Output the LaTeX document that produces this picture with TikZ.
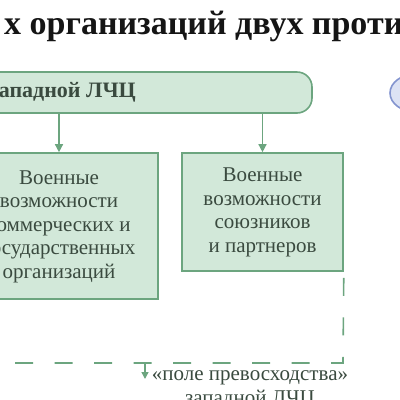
\documentclass[tikz,border=0pt]{standalone}
\usepackage{fontspec}
\setmainfont{Liberation Serif}
\usetikzlibrary{arrows.meta,shapes.geometric}
\definecolor{boxfill}{HTML}{D2E8D9}
\definecolor{boxdraw}{HTML}{6CA57F}
\definecolor{boxtext}{HTML}{3A4A3F}
\definecolor{bluefill}{HTML}{DCE2F4}
\definecolor{bluedraw}{HTML}{8394CF}
\definecolor{titletext}{HTML}{151515}
\tikzset{
  greenbox/.style={draw=boxdraw, fill=boxfill, line width=1.6pt, inner sep=0pt},
  boxlabel/.style={text=boxtext, align=center, font=\fontsize{21}{23.5}\selectfont, inner sep=0pt},
  arr/.style={draw=boxdraw, line width=1.4pt, -{Triangle[width=8pt,length=8pt]}},
  dashline/.style={draw=boxdraw, line width=1.6pt, dash pattern=on 18pt off 21.5pt, dash phase=33.5pt},
}
\begin{document}
\begin{tikzpicture}[x=1pt,y=-1pt]
\useasboundingbox (0,0) rectangle (400,400);
\clip (0,0) rectangle (400,400);
% title
\node[anchor=base west, inner sep=0pt, text=titletext, font=\fontsize{34}{38}\selectfont\bfseries] (title) at (4,34) {х организаций двух противоборствующих};
% top lead box
\node[greenbox, rounded corners=15pt, minimum width=462pt, minimum height=41pt] (lead) at (81,92.5) {};
\node[anchor=east, inner sep=0pt, text=boxtext, font=\fontsize{22}{26}\selectfont\bfseries] (leadtext) at (136,92) {западной ЛЧЦ};
% left box
\node[greenbox, minimum width=308pt, minimum height=146pt] (lbox) at (4,226) {};
\node[boxlabel] (ltext) at (59,226.5) {Военные\\возможности\\коммерческих и\\государственных\\организаций};
% right box
\node[greenbox, minimum width=161pt, minimum height=118pt] (rbox) at (262.5,212) {};
\node[boxlabel] (rtext) at (262.5,212.5) {Военные\\возможности\\союзников\\и партнеров};
% arrows
\draw[arr] (lead.south -| ltext) -- (ltext |- lbox.north);
\draw[arr] (lead.south -| rbox) -- (rbox.north);
% dashed bracket
\coordinate (corner) at (343,363);
\coordinate (dashend) at (-10,363);
\draw[dashline] (rbox.south east) -- (corner) -- (dashend);
% field label
\coordinate (tick) at (145,363);
\coordinate (tickend) at (145,379);
\draw[draw=boxdraw, line width=1.4pt, -{Triangle[width=7pt,length=7pt]}] (tick) -- (tickend);
\node[boxlabel] (field) at (250,390) {«поле превосходства»\\западной ЛЧЦ};
% blue element on the right
\node[ellipse, draw=bluedraw, fill=bluefill, line width=1.6pt, minimum width=52pt, minimum height=38pt] (blue) at (416,93) {};
\end{tikzpicture}
\end{document}
